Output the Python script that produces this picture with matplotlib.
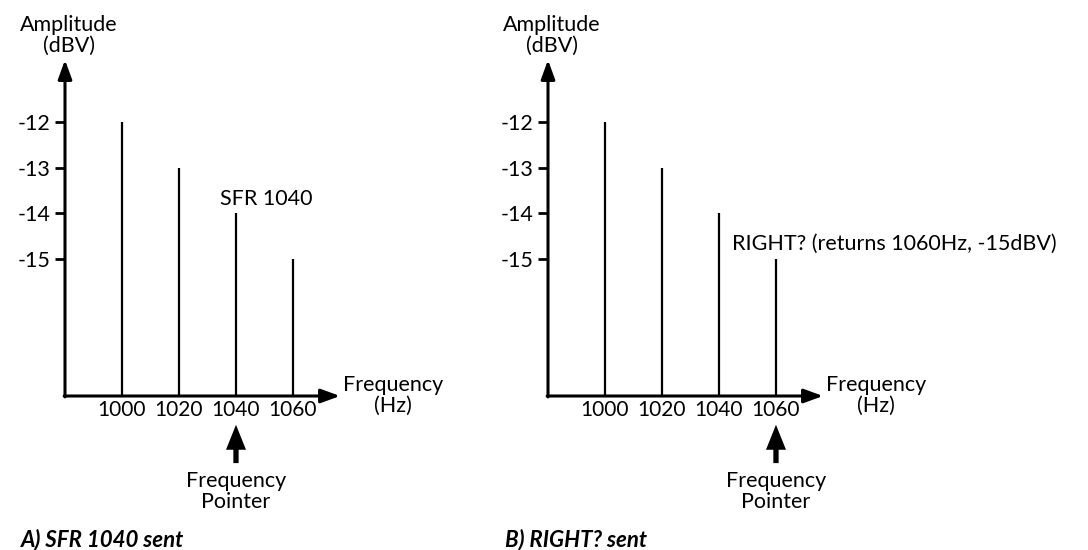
import matplotlib
matplotlib.use("Agg")
import matplotlib.pyplot as plt

plt.rcParams['font.family'] = ['Lato', 'DejaVu Sans']

# data
freqs = [1000, 1020, 1040, 1060]
amps = [-12, -13, -14, -15]
yticks = [-12, -13, -14, -15]
pointer_freqs = [1040, 1060]
notes = ["SFR 1040", "RIGHT? (returns 1060Hz, -15dBV)"]
note_pos = [(1034.4, -13.82), (1044.6, -14.8)]
captions = ["A) SFR 1040 sent", "B) RIGHT? sent"]

x0, x1 = 980, 1076.5
y0, y1 = -18, -10.64

fig = plt.figure(figsize=(10.88, 5.5), dpi=100)

lefts = [65, 548]
cap_x = [21, 505]
fs = 15.5
for i in range(2):
    ax = fig.add_axes([lefts[i] / 1088, 154 / 550, 275 / 1088, 336 / 550])
    ax.set_xlim(x0, x1)
    ax.set_ylim(y0, y1)
    for s in ax.spines.values():
        s.set_visible(False)
    ax.patch.set_visible(False)

    # spectral lines
    ax.vlines(freqs, y0, amps, color='k', lw=1.6)

    # axes with arrows
    arr = dict(arrowstyle='-|>,head_length=1.15,head_width=0.42', color='k',
               lw=2.2, shrinkA=0, shrinkB=0, mutation_scale=10)
    ax.annotate('', xy=(x0, y1), xytext=(x0, y0 - 0.02), arrowprops=arr,
                annotation_clip=False)
    ax.annotate('', xy=(x1, y0), xytext=(x0 - 0.3, y0), arrowprops=arr,
                annotation_clip=False)

    ax.set_yticks(yticks)
    ax.set_yticklabels([str(t) for t in yticks])
    ax.set_xticks(freqs)
    ax.set_xticklabels([str(f) for f in freqs])
    ax.tick_params(axis='y', length=7.2, width=2, pad=3, labelsize=15.5)
    ax.tick_params(axis='x', length=0, pad=3, labelsize=15)

    ax.text(981.4, -10.1, "Amplitude\n(dBV)", ha='center', va='center',
            fontsize=fs, linespacing=1.05, clip_on=False)
    ax.text(1095, -17.98, "Frequency\n(Hz)", ha='center', va='center',
            fontsize=fs, linespacing=1.05, clip_on=False)

    ax.text(note_pos[i][0], note_pos[i][1], notes[i], ha='left',
            va='baseline', fontsize=fs, clip_on=False)

    pf = pointer_freqs[i]
    ax.annotate('', xy=(pf, -18.63), xytext=(pf, -19.47),
                arrowprops=dict(arrowstyle='simple,head_length=1.8,head_width=1.44,tail_width=0.38',
                                color='k', lw=0, shrinkA=0, shrinkB=0,
                                mutation_scale=10),
                annotation_clip=False)
    ax.text(pf, -20.1, "Frequency\nPointer", ha='center', va='center',
            fontsize=fs, linespacing=1.05, clip_on=False)

    fig.text(cap_x[i] / 1088, 1 - 540 / 550, captions[i], ha='left',
             va='center', fontsize=16, fontweight='bold', fontstyle='italic')

fig.savefig("out.png", dpi=100)
